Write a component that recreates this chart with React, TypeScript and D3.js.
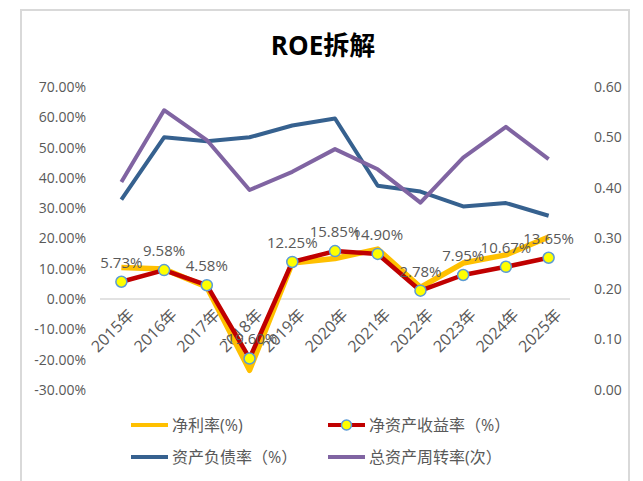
import React, { useEffect, useRef } from 'react';
import * as d3 from 'd3';

const years = ['2015年', '2016年', '2017年', '2018年', '2019年', '2020年', '2021年', '2022年', '2023年', '2024年', '2025年'];
// 净利率(%)
const netMargin = [10.4, 9.9, 4.0, -23.5, 11.9, 13.4, 16.5, 3.9, 11.9, 14.6, 20.5];
// 净资产收益率（%）
const roe = [5.73, 9.58, 4.58, -19.6, 12.25, 15.85, 14.9, 2.78, 7.95, 10.67, 13.65];
// 资产负债率（%）
const debtRatio = [32.8, 53.4, 52.1, 53.4, 57.3, 59.6, 37.4, 35.5, 30.6, 31.7, 27.5];
// 总资产周转率(次）
const assetTurnover = [0.412, 0.554, 0.495, 0.396, 0.432, 0.477, 0.437, 0.371, 0.46, 0.521, 0.457];

const leftTicks = [-30, -20, -10, 0, 10, 20, 30, 40, 50, 60, 70];
const rightTicks = [0, 0.1, 0.2, 0.3, 0.4, 0.5, 0.6];

const legendItems = [
  { name: '净利率(%)', color: '#FFC000', marker: false },
  { name: '净资产收益率（%）', color: '#C00000', marker: true },
  { name: '资产负债率（%）', color: '#36618F', marker: false },
  { name: '总资产周转率(次）', color: '#8064A2', marker: false },
];

const FONT = '"Open Sans", "Noto Sans CJK SC", sans-serif';
const TEXT = '#595959';

export default function App() {
  const ref = useRef<SVGSVGElement>(null);

  useEffect(() => {
    const width = 643;
    const height = 481;
    const plot = { left: 100, right: 570, top: 87, bottom: 390 };

    const svg = d3.select(ref.current);
    svg.selectAll('*').remove();
    svg.attr('width', width).attr('height', height);

    // chart frame
    svg.append('rect')
      .attr('x', 21).attr('y', 10)
      .attr('width', 608).attr('height', 480)
      .attr('fill', '#fff')
      .attr('stroke', '#D9D9D9')
      .attr('stroke-width', 2);

    svg.append('text')
      .attr('x', 323).attr('y', 55)
      .attr('text-anchor', 'middle')
      .attr('font-family', FONT)
      .attr('font-weight', 'bold')
      .attr('font-size', 26)
      .attr('fill', '#000')
      .text('ROE拆解');

    const x = d3.scaleBand().domain(years).range([plot.left, plot.right]);
    const cx = (d: string) => (x(d) as number) + x.bandwidth() / 2;
    const yL = d3.scaleLinear().domain([-30, 70]).range([plot.bottom, plot.top]);
    const yR = d3.scaleLinear().domain([0, 0.6]).range([plot.bottom, plot.top]);

    // left axis labels
    svg.append('g').selectAll('text')
      .data(leftTicks)
      .enter()
      .append('text')
      .attr('x', 86)
      .attr('y', d => yL(d))
      .attr('dy', '0.35em')
      .attr('text-anchor', 'end')
      .attr('font-family', FONT)
      .attr('font-size', 14)
      .attr('fill', TEXT)
      .text(d => d.toFixed(2) + '%');

    // right axis labels
    svg.append('g').selectAll('text')
      .data(rightTicks)
      .enter()
      .append('text')
      .attr('x', 594)
      .attr('y', d => yR(d))
      .attr('dy', '0.35em')
      .attr('text-anchor', 'start')
      .attr('font-family', FONT)
      .attr('font-size', 14)
      .attr('fill', TEXT)
      .text(d => d.toFixed(2));

    // category axis at zero
    svg.append('line')
      .attr('x1', plot.left).attr('x2', plot.right)
      .attr('y1', yL(0)).attr('y2', yL(0))
      .attr('stroke', '#D9D9D9')
      .attr('stroke-width', 1.5);

    svg.append('g').selectAll('text')
      .data(years)
      .enter()
      .append('text')
      .attr('transform', d => `translate(${cx(d) + 6}, ${yL(0) + 9}) rotate(-45)`)
      .attr('text-anchor', 'end')
      .attr('dy', '0.7em')
      .attr('font-family', FONT)
      .attr('font-size', 16)
      .attr('fill', TEXT)
      .text(d => d);

    const lineL = (vals: number[]) => d3.line<number>()
      .x((_, i) => cx(years[i]))
      .y(d => yL(d))(vals);
    const lineR = (vals: number[]) => d3.line<number>()
      .x((_, i) => cx(years[i]))
      .y(d => yR(d))(vals);

    const drawPath = (d: string | null, color: string, w: number) => {
      svg.append('path')
        .attr('d', d)
        .attr('fill', 'none')
        .attr('stroke', color)
        .attr('stroke-width', w)
        .attr('stroke-linejoin', 'round');
    };

    drawPath(lineL(debtRatio), '#36618F', 4);
    drawPath(lineR(assetTurnover), '#8064A2', 4);
    drawPath(lineL(netMargin), '#FFC000', 5.5);
    drawPath(lineL(roe), '#C00000', 4.5);

    svg.append('g').selectAll('circle')
      .data(roe)
      .enter()
      .append('circle')
      .attr('cx', (_, i) => cx(years[i]))
      .attr('cy', d => yL(d))
      .attr('r', 5.5)
      .attr('fill', '#FFFF00')
      .attr('stroke', '#5B9BD5')
      .attr('stroke-width', 1.5);

    svg.append('g').selectAll('text')
      .data(roe)
      .enter()
      .append('text')
      .attr('x', (_, i) => cx(years[i]))
      .attr('y', d => yL(d) - 14)
      .attr('text-anchor', 'middle')
      .attr('font-family', FONT)
      .attr('font-size', 15)
      .attr('fill', TEXT)
      .text(d => d.toFixed(2) + '%');

    // legend
    const legend = svg.append('g');
    legendItems.forEach((item, i) => {
      const lx = i % 2 === 0 ? 131 : 328;
      const ly = i < 2 ? 425 : 457;
      const g = legend.append('g').attr('transform', `translate(${lx}, ${ly})`);
      g.append('line')
        .attr('x1', 0).attr('x2', 37)
        .attr('y1', 0).attr('y2', 0)
        .attr('stroke', item.color)
        .attr('stroke-width', 4);
      if (item.marker) {
        g.append('circle')
          .attr('cx', 18.5).attr('cy', 0).attr('r', 5)
          .attr('fill', '#FFFF00')
          .attr('stroke', '#5B9BD5')
          .attr('stroke-width', 1.5);
      }
      g.append('text')
        .attr('x', 41)
        .attr('y', 0)
        .attr('dy', '0.35em')
        .attr('font-family', FONT)
        .attr('font-size', 16)
        .attr('fill', TEXT)
        .text(item.name);
    });
  }, []);

  return <svg ref={ref} style={{ position: 'absolute', left: 0, top: 0 }} />;
}
